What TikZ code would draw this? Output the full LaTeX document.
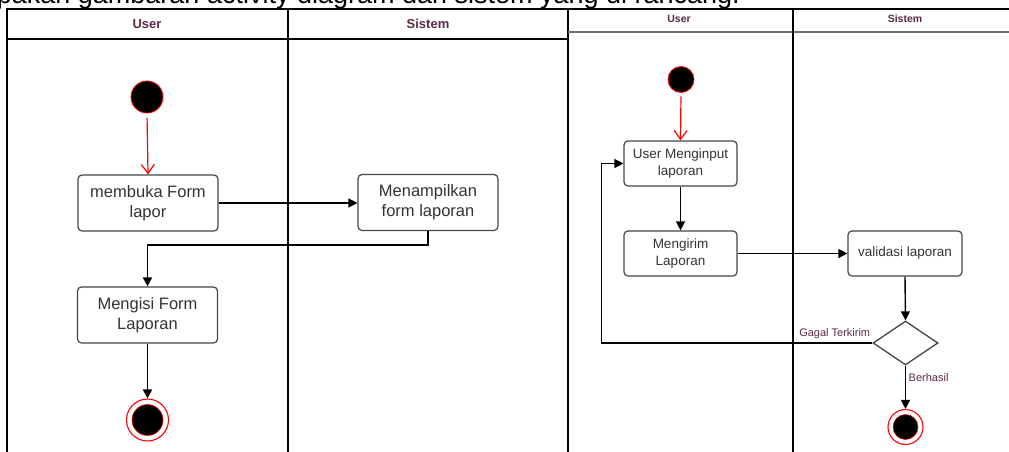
\documentclass[tikz,border=0pt]{standalone}
\usepackage{fontspec}
\setmainfont{Liberation Sans}
\usetikzlibrary{arrows.meta,shapes.geometric}

\definecolor{hdrtext}{RGB}{92,42,72}
\definecolor{boxtext}{RGB}{51,51,51}
\definecolor{boxline}{RGB}{70,70,70}
\definecolor{lanegray}{RGB}{110,110,110}

\tikzset{
  act/.style={draw=boxline, line width=1.2pt, rounded corners=4pt, fill=white,
    align=center, text=boxtext, inner sep=0pt},
  actbig/.style={act, minimum width=140pt, minimum height=56pt,
    font=\fontsize{16.5}{20}\selectfont},
  actsmall/.style={act, minimum width=113pt, minimum height=45pt,
    font=\fontsize{13.5}{17.5}\selectfont},
  flow/.style={draw=black, line width=1.4pt, -{Triangle[length=9pt,width=9pt]}},
  initflow/.style={draw=red, line width=1.2pt, -{Straight Barb[length=9pt,width=13pt]}},
  startstate/.style={circle, fill=black, draw=red, line width=0.8pt, inner sep=0pt},
  endring/.style={circle, draw=red, line width=1.1pt, fill=white, inner sep=0pt},
  decision/.style={diamond, draw=boxline, line width=1.3pt, fill=white, inner sep=0pt,
    minimum width=65pt, minimum height=44pt},
  lanehead/.style={text=hdrtext, font=\bfseries\fontsize{13}{15}\selectfont},
  laneheadsmall/.style={text=hdrtext, font=\bfseries\fontsize{10.5}{12}\selectfont},
  guard/.style={text=hdrtext, font=\fontsize{11}{13}\selectfont, inner sep=1.5pt},
  frame/.style={line width=2pt, draw=black},
  frameb/.style={line width=1.4pt, draw=black},
}

\begin{document}
\begin{tikzpicture}[x=1pt, y=-1pt]
\useasboundingbox (0,0) rectangle (1009,451);
\clip (0,0) rectangle (1009,451);
\fill[white] (0,0) rectangle (1009,451);

% caption line running above the diagrams
\node[anchor=base east, inner sep=0pt, font=\fontsize{27}{30}\selectfont] (caption)
  at (740,3.5) {pakan gambaran activity diagram dari sistem yang di rancang.};

% ---------- first activity diagram: swimlanes ----------
\draw[frame] (7,9) -- (568,9);
\draw[frame] (7,38.5) -- (568,38.5);
\draw[frame] (7,8) -- (7,460);
\draw[frame] (288,9) -- (288,460);
\draw[frame] (568,8) -- (568,460);
\node[lanehead] (laneUserA) at (147,24) {User};
\node[lanehead] (laneSistemA) at (428,24) {Sistem};

% ---------- second activity diagram: swimlanes ----------
\draw[frameb] (568,9) -- (1015,9);
\draw[line width=1.5pt, draw=lanegray] (568,32) -- (1015,32);
\draw[frameb] (793,9) -- (793,460);
\node[laneheadsmall] (laneUserB) at (679,19) {User};
\node[laneheadsmall] (laneSistemB) at (905,19) {Sistem};

% ---------- first diagram: nodes ----------
\node[startstate, minimum size=32pt] (startA) at (147,97) {};
\node[actbig] (bukaForm) at (148,203) {membuka Form\\lapor};
\node[actbig] (tampilForm) at (428,202.5) {Menampilkan\\form laporan};
\node[actbig] (isiForm) at (147.5,315) {Mengisi Form\\Laporan};
\node[endring, minimum size=42pt] (endA) at (147.5,420) {};
\fill[black, draw=red, line width=0.5pt] (endA.center) circle (15.5);

% ---------- first diagram: connectors ----------
\draw[initflow, shorten <=4.5pt] (startA.south) -- (bukaForm.north);
\draw[flow] (bukaForm.east) -- (bukaForm.east -| tampilForm.west);
\draw[flow, line width=1.8pt] (tampilForm.south) -- ++(0,14) -| (isiForm.north);
\draw[flow, line width=1.8pt] (isiForm.south) -- (endA.north);

% ---------- second diagram: nodes ----------
\node[startstate, minimum size=26pt] (startB) at (681,79.5) {};
\node[actsmall] (inputLap) at (680.5,163.5) {User Menginput\\laporan};
\node[actsmall] (kirimLap) at (680.5,253.5) {Mengirim\\Laporan};
\node[actsmall, minimum width=114pt] (validLap) at (905,253.5) {validasi laporan};
\node[decision] (cekValid) at (905.5,343) {};
\node[endring, minimum size=35pt] (endB) at (905.5,427) {};
\fill[black, draw=red, line width=0.5pt] (endB.center) circle (12.5);

% ---------- second diagram: connectors ----------
\draw[initflow, shorten <=3.5pt] (startB.south) -- (inputLap.north);
\draw[flow] (inputLap.south) -- (kirimLap.north);
\draw[flow] (kirimLap.east) -- (validLap.west);
\draw[flow] (validLap.south) -- (cekValid.north);
\draw[flow] (cekValid.west)
  node[guard, anchor=south east, yshift=2pt] (gagalLbl) {Gagal Terkirim}
  -- ++(-271,0) |- (inputLap.west);
\draw[flow] (cekValid.south) -- (endB.north)
  node[guard, pos=0.27, anchor=west, xshift=1pt] (berhasilLbl) {Berhasil};
\end{tikzpicture}
\end{document}
